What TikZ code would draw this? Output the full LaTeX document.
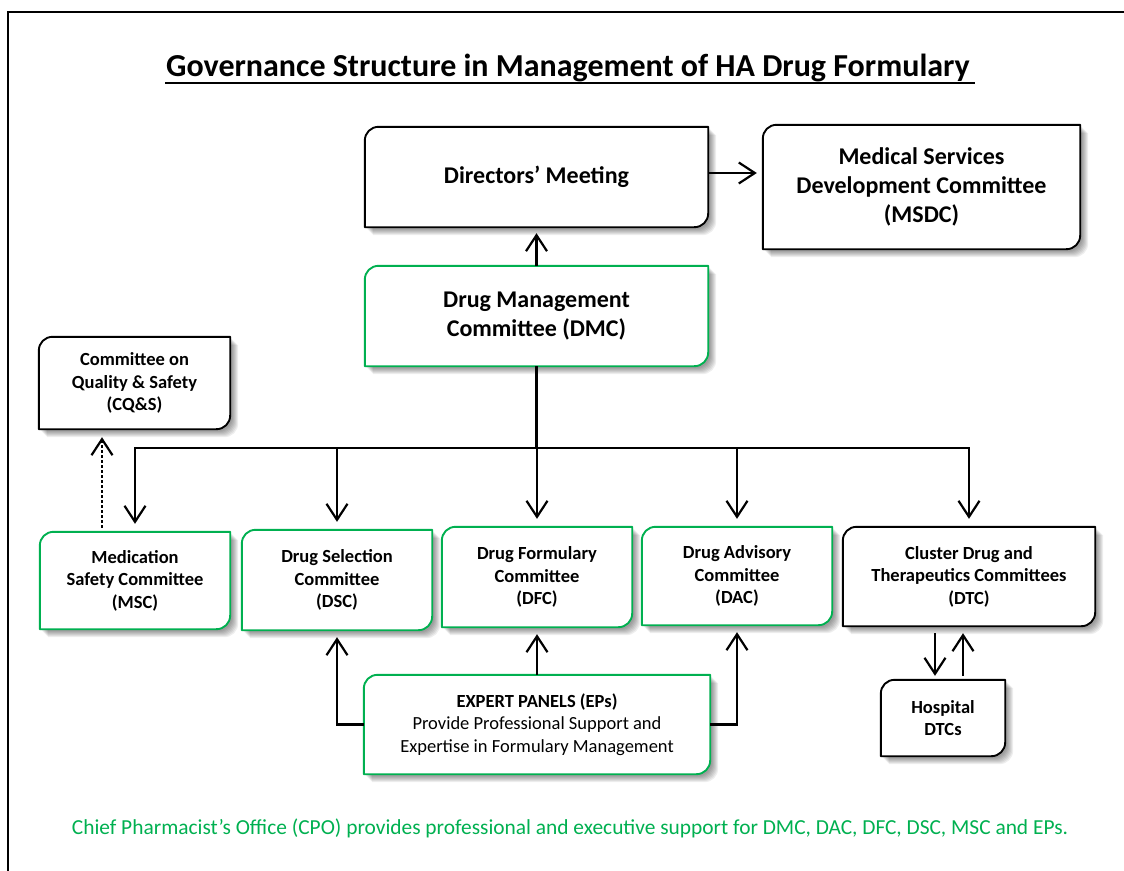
\documentclass[tikz,border=0pt]{standalone}
\usepackage{fontspec}
\setmainfont{Carlito}
\usetikzlibrary{arrows.meta,backgrounds}
\definecolor{hagreen}{RGB}{0,176,80}
\newcommand\cpath[1]{([yshift=-14pt]#1.north west) .. controls ([yshift=-6pt]#1.north west) and ([xshift=6pt]#1.north west) .. ([xshift=14pt]#1.north west) -- (#1.north east) -- ([yshift=14pt]#1.south east) .. controls ([yshift=6pt]#1.south east) and ([xshift=-6pt]#1.south east) .. ([xshift=-14pt]#1.south east) -- (#1.south west) -- cycle}
\newcommand\cbox[2]{%
  \foreach \k in {2,...,8}{\fill[black,opacity=0.065,transform canvas={shift={(\k pt,-\k pt)}}] \cpath{#1};}
  \fill[white] \cpath{#1};
  \draw[#2,line width=1.9pt,line join=round] \cpath{#1};}
\begin{document}
\begin{tikzpicture}[x=1pt,y=-1pt,
  lbl/.style={align=center, inner sep=0pt, font=\fontsize{18.5}{22.5}\selectfont\bfseries},
  lblbig/.style={align=center, inner sep=0pt, font=\fontsize{24}{29}\selectfont\bfseries},
  conn/.style={line width=2.2pt, -{Straight Barb[length=16pt,width=21pt]}},
  wire/.style={line width=2.4pt}]
\useasboundingbox (0,0) rectangle (1124,870);
\clip (0,0) rectangle (1124,870);
\draw[line width=2.5pt] (8,900) -- (8,12) -- (1150,12);

% title
\node[anchor=base, inner sep=0pt, font=\fontsize{32}{38}\selectfont\bfseries] (title) at (568,76) {Governance Structure in Management of HA Drug Formulary};
\coordinate (ulL) at (165,83);
\coordinate (ulR) at (975,83);
\draw[line width=2.6pt] (ulL) -- (ulR);

% nodes
\node[lblbig, minimum width=343pt, minimum height=100pt] (dm) at (536.5,177) {Directors’ Meeting};
\node[lblbig, minimum width=317pt, minimum height=124pt] (msdc) at (921.5,187) {Medical Services\\Development Committee\\(MSDC)};
\node[lblbig, minimum width=343pt, minimum height=100pt] (dmc) at (536.5,316) {Drug Management\\Committee (DMC)};
\node[lbl, minimum width=191pt, minimum height=92pt] (cqs) at (134.5,383) {Committee on\\Quality \& Safety\\(CQ\&S)};
\node[lbl, minimum width=190pt, minimum height=97pt] (msc) at (135,580.5) {Medication\\Safety Committee\\(MSC)};
\node[lbl, minimum width=190pt, minimum height=100pt] (dsc) at (337,580) {Drug Selection\\Committee\\(DSC)};
\node[lbl, minimum width=190pt, minimum height=100pt] (dfc) at (537,577) {Drug Formulary\\Committee\\(DFC)};
\node[lbl, minimum width=190pt, minimum height=98pt] (dac) at (737,576) {Drug Advisory\\Committee\\(DAC)};
\node[lbl, minimum width=252pt, minimum height=99pt] (dtc) at (969,576.5) {Cluster Drug and\\Therapeutics Committees\\(DTC)};
\node[lbl, minimum width=124pt, minimum height=76pt] (hosp) at (943,718) {Hospital\\DTCs};
\node[lbl, font=\fontsize{18.5}{22.5}\selectfont, minimum width=346pt, minimum height=99pt] (ep) at (537,724.5) {\textbf{EXPERT PANELS (EPs)}\\Provide Professional Support and\\Expertise in Formulary Management};

\node[inner sep=0pt, font=\fontsize{21.4}{25}\selectfont, text=hagreen] (cpo) at (570,828) {Chief Pharmacist’s Office (CPO) provides professional and executive support for DMC, DAC, DFC, DSC, MSC and EPs.};

\begin{pgfonlayer}{background}
  \cbox{dm}{black}
  \cbox{msdc}{black}
  \cbox{dmc}{hagreen}
  \cbox{cqs}{black}
  \cbox{msc}{hagreen}
  \cbox{dsc}{hagreen}
  \cbox{dfc}{hagreen}
  \cbox{dac}{hagreen}
  \cbox{dtc}{black}
  \cbox{hosp}{black}
  \cbox{ep}{hagreen}
\end{pgfonlayer}

% connectors
\draw[conn, shorten >=6pt] (dmc.north) -- (dm.south);
\coordinate (dmE) at ([yshift=4pt]dm.east);
\draw[conn, shorten >=6pt] (dmE) -- (dmE -| msdc.west);

\coordinate (busL) at (135,448);
\draw[wire, line cap=rect] (msc.north |- busL) -- (dtc.north |- busL);
\draw[wire] (dmc.south) -- (dmc.south |- busL);
\foreach \n in {msc,dsc,dfc,dac,dtc}
  \draw[conn, shorten >=8pt] (\n.north |- busL) -- (\n.north);

\coordinate (dx) at (102,0);
\draw[conn, dash pattern=on 2.5pt off 2.5pt, shorten <=4pt, shorten >=8pt] (dx |- msc.north) -- (dx |- cqs.south);

\draw[conn, shorten >=7pt] (ep.west) -| (dsc.south);
\draw[conn, shorten >=7pt] (ep.east) -| (dac.south);
\draw[conn, shorten >=7pt] (ep.north) -- (dfc.south);

\coordinate (dn) at (935,0);
\coordinate (up) at (963,0);
\draw[conn, shorten <=7pt, shorten >=4pt] (dn |- dtc.south) -- (dn |- hosp.north);
\draw[conn, shorten <=4pt, shorten >=7pt] (up |- hosp.north) -- (up |- dtc.south);
\end{tikzpicture}
\end{document}
